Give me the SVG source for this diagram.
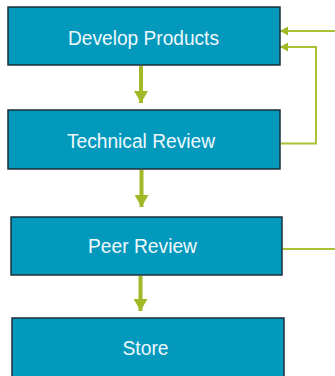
<svg xmlns="http://www.w3.org/2000/svg" width="335" height="376" viewBox="0 0 335 376">
<defs>
<style>
.box{fill:#0399bd;stroke:#1c2f38;stroke-width:1.5}
.lbl{font-family:"Liberation Sans",Arial,sans-serif;font-size:20px;fill:#eef8fb;text-anchor:middle}
.down{stroke:#a2b927;stroke-width:4;fill:none}
.fb{stroke:#a9c133;stroke-width:2;fill:none}
</style>
<marker id="hd" viewBox="0 0 12 14" refX="12" refY="7" markerWidth="12" markerHeight="14" markerUnits="userSpaceOnUse" orient="auto">
<path d="M0,0 L12,7 L0,14 Z" fill="#a2b927"/>
</marker>
<marker id="hl" viewBox="0 0 8 9" refX="8" refY="4.5" markerWidth="8" markerHeight="9" markerUnits="userSpaceOnUse" orient="auto">
<path d="M0,0 L8,4.5 L0,9 Z" fill="#a2b927"/>
</marker>
</defs>
<g id="connectors">
<line class="down" x1="141" y1="66" x2="141" y2="103" marker-end="url(#hd)"/>
<line class="down" x1="141.5" y1="170" x2="141.5" y2="207" marker-end="url(#hd)"/>
<line class="down" x1="140.5" y1="276" x2="140.5" y2="311" marker-end="url(#hd)"/>
<line class="fb" x1="335" y1="31" x2="280" y2="31" marker-end="url(#hl)"/>
<polyline class="fb" points="281,143.5 316,143.5 316,47 280,47" marker-end="url(#hl)"/>
<line class="fb" x1="283" y1="249" x2="335" y2="249"/>
</g>
<g id="develop-products">
<rect class="box" x="8" y="7" width="272" height="58"/>
<text class="lbl" x="143.5" y="44.5" textLength="151" lengthAdjust="spacingAndGlyphs">Develop Products</text>
</g>
<g id="technical-review">
<rect class="box" x="8" y="110" width="272" height="59"/>
<text class="lbl" x="141" y="147.5" textLength="148" lengthAdjust="spacingAndGlyphs">Technical Review</text>
</g>
<g id="peer-review">
<rect class="box" x="11" y="217" width="271" height="58"/>
<text class="lbl" x="142.5" y="253" textLength="109" lengthAdjust="spacingAndGlyphs">Peer Review</text>
</g>
<g id="store">
<rect class="box" x="12" y="318" width="272" height="62"/>
<text class="lbl" x="145.5" y="354.5" textLength="46" lengthAdjust="spacingAndGlyphs">Store</text>
</g>
</svg>
